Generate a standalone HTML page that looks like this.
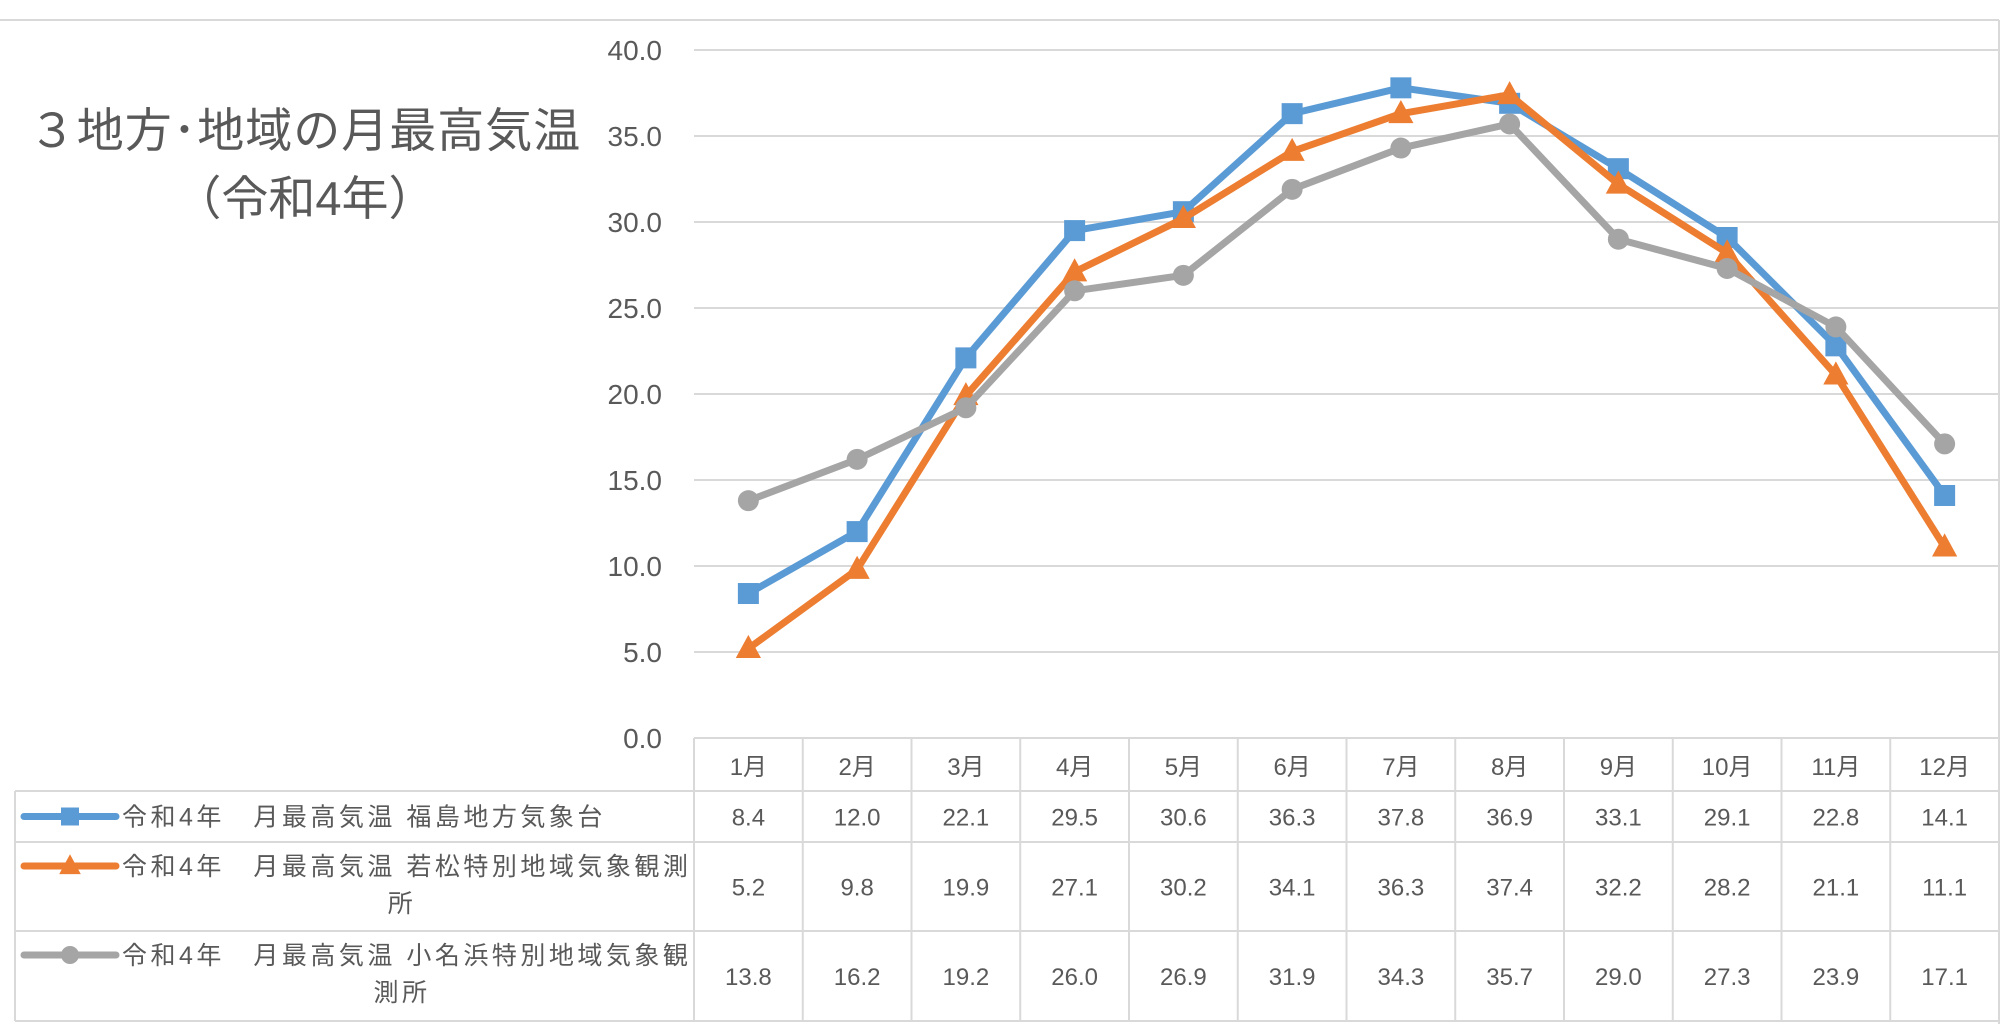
<!DOCTYPE html>
<html><head><meta charset="utf-8">
<style>
html,body{margin:0;padding:0;background:#fff;}
svg{display:block;font-family:"Liberation Sans","Noto Sans CJK JP",sans-serif;}
</style></head>
<body>
<svg id="chart" width="2012" height="1024" viewBox="0 0 2012 1024" xmlns="http://www.w3.org/2000/svg">
<rect x="0" y="0" width="2012" height="1024" fill="#fff"/>
<line x1="0" y1="20" x2="1999" y2="20" stroke="#d9d9d9" stroke-width="2"/>
<line x1="1999" y1="20" x2="1999" y2="1024" stroke="#d9d9d9" stroke-width="2"/>
<g font-size="47" fill="#595959" text-anchor="middle">
<text x="305" y="147" letter-spacing="1">３地方･地域の月最高気温</text>
<text x="305" y="215">（令和4年）</text>
</g>
<g id="grid"></g><g id="table"></g><g id="series"></g>
</svg>
<script>
const months=["1月","2月","3月","4月","5月","6月","7月","8月","9月","10月","11月","12月"];
const yTicks=[0,5,10,15,20,25,30,35,40];
const fukushima=[8.4,12.0,22.1,29.5,30.6,36.3,37.8,36.9,33.1,29.1,22.8,14.1];
const wakamatsu=[5.2,9.8,19.9,27.1,30.2,34.1,36.3,37.4,32.2,28.2,21.1,11.1];
const onahama=[13.8,16.2,19.2,26.0,26.9,31.9,34.3,35.7,29.0,27.3,23.9,17.1];
const seriesNames=[["令和4年　月最高気温 福島地方気象台"],["令和4年　月最高気温 若松特別地域気象観測","所"],["令和4年　月最高気温 小名浜特別地域気象観","測所"]];

const NS="http://www.w3.org/2000/svg";
const L=694,R=1999,T=50,B=738;
const cw=(R-L)/months.length;
const x=i=>L+cw*(i+0.5);
const y=v=>B-(v/40)*(B-T);
function mk(tag,attrs,parent){const e=document.createElementNS(NS,tag);for(const k in attrs)e.setAttribute(k,attrs[k]);parent.appendChild(e);return e;}
const grid=document.getElementById('grid'),tbl=document.getElementById('table'),ser=document.getElementById('series');

yTicks.forEach(t=>{
  const ln=mk('line',{x1:L,x2:R,y1:y(t),y2:y(t),stroke:'#d9d9d9','stroke-width':2},grid);
  
  
  const tx=mk('text',{x:662,y:y(t)+10,'font-size':28,fill:'#595959','text-anchor':'end'},grid);
  tx.textContent=t.toFixed(1);
  
  
});

const rowsY=[738,791,842,931,1021];
const lc='#d9d9d9';
function hl(x1,x2,yy){const e=mk('line',{x1:x1,x2:x2,y1:yy,y2:yy,stroke:lc,'stroke-width':2},tbl);}
function vl(xx,y1,y2){const e=mk('line',{x1:xx,x2:xx,y1:y1,y2:y2,stroke:lc,'stroke-width':2},tbl);}
hl(L,R,rowsY[0]);
for(let r=1;r<5;r++)hl(15,R,rowsY[r]);
vl(15,rowsY[1],rowsY[4]);
for(let i=0;i<=months.length;i++)vl(L+cw*i,rowsY[0],rowsY[4]);
months.forEach((m,i)=>{
  const t=mk('text',{x:x(i),y:775,'font-size':24,fill:'#595959','text-anchor':'middle'},tbl);
  t.textContent=m;
  
  
});
const allData=[fukushima,wakamatsu,onahama];
const colors=['#5b9bd5','#ed7d31','#a5a5a5'];
const markers=['square','triangle','circle'];
function marker(kind,cx,cy,col,s,parent){
  let e;
  if(kind==='square')e=mk('rect',{x:cx-s/2,y:cy-s/2,width:s,height:s,fill:col},parent);
  else if(kind==='triangle')e=mk('polygon',{points:`${cx},${cy-s*0.65} ${cx-s*0.6},${cy+s*0.45} ${cx+s*0.6},${cy+s*0.45}`,fill:col},parent);
  else e=mk('circle',{cx:cx,cy:cy,r:s/2,fill:col},parent);
  return e;
}
allData.forEach((d,si)=>{
  const top=rowsY[si+1],bot=rowsY[si+2],mid=(top+bot)/2;
  d.forEach((v,i)=>{
    const t=mk('text',{x:x(i),y:mid+9,'font-size':24,fill:'#595959','text-anchor':'middle'},tbl);
    t.textContent=v.toFixed(1);
    
    
  });
  const lines=seriesNames[si];
  const ly=lines.length>1?top+24:mid;
  const sym=mk('line',{x1:24,x2:116,y1:ly,y2:ly,stroke:colors[si],'stroke-width':7,'stroke-linecap':'round'},tbl);
  
  
  const mm=marker(markers[si],70,ly,colors[si],18,tbl);
  
  
  const t1=mk('text',{x:122,y:ly+9,'font-size':25,fill:'#595959','letter-spacing':3.5},tbl);
  t1.textContent=lines[0];
  
  
  if(lines.length>1){
    const t2=mk('text',{x:402,y:ly+46,'font-size':25,fill:'#595959','text-anchor':'middle','letter-spacing':3.5},tbl);
    t2.textContent=lines[1];
    
    
  }
});
allData.forEach((d,si)=>{
  const g=mk('g',{},ser);
  
  
  const pl=mk('polyline',{points:d.map((v,i)=>x(i)+','+y(v)).join(' '),fill:'none',stroke:colors[si],'stroke-width':7,'stroke-linejoin':'round'},g);
  
  
  d.forEach((v,i)=>{
    const m=marker(markers[si],x(i),y(v),colors[si],21,g);
    
    
  });
});
</script>
</body></html>
